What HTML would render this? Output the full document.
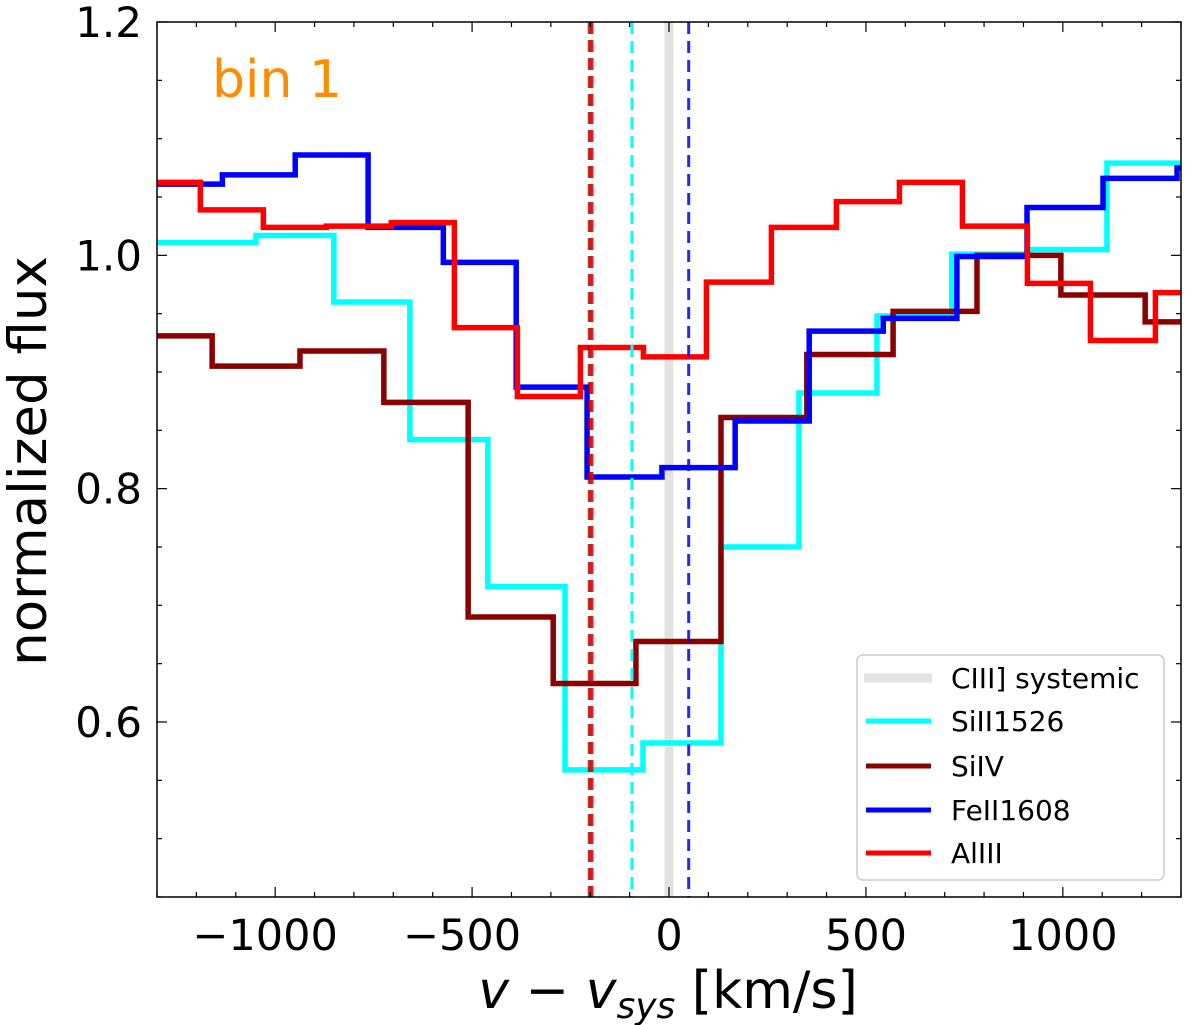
<!DOCTYPE html>
<html><head><meta charset="utf-8"><style>
html,body{margin:0;padding:0;background:#fff;}
svg{display:block;font-family:"DejaVu Sans","Liberation Sans",sans-serif;}
</style></head><body>
<svg id="chart" width="1200" height="1025" viewBox="0 0 1200 1025">
</svg>
<script>
const redEdges=[-1300,-1190,-1030,-870,-705,-545,-385,-225,-65,95,260,425,585,745,910,1070,1235,1300];
const redLevels=[1.0625,1.039,1.024,1.025,1.028,0.938,0.879,0.921,0.913,0.977,1.024,1.046,1.0625,1.025,0.976,0.927,0.968];
const blueEdges=[-1300,-1134,-949,-764,-573,-388,-208,-18,168,356,544,731,909,1102,1290,1300];
const blueLevels=[1.061,1.069,1.086,1.024,0.994,0.887,0.810,0.818,0.858,0.935,0.946,0.999,1.041,1.066,1.075];
const cyanEdges=[-1300,-1049,-851,-658,-460,-264,-66,132,330,528,718,917,1112,1300];
const cyanLevels=[1.011,1.017,0.960,0.842,0.716,0.559,0.582,0.750,0.882,0.948,1.001,1.005,1.079];
const darkEdges=[-1300,-1160,-937,-724,-510,-294,-84,132,350,569,782,995,1209,1300];
const darkLevels=[0.931,0.905,0.918,0.874,0.690,0.633,0.669,0.861,0.915,0.952,1.0,0.966,0.943];
const vlineValues=[-200,-197,-94,50];
const xTicks=[-1000,-500,0,500,1000];
const xTickLabels=["\u22121000","\u2212500","0","500","1000"];
const yTicks=[0.6,0.8,1.0,1.2];
const yTickLabels=["0.6","0.8","1.0","1.2"];

const L=157,R=1181,T=22,B=897,XMIN=-1300,XMAX=1300,YMIN=0.45,YMAX=1.2;
const sx=v=>L+(v-XMIN)/(XMAX-XMIN)*(R-L);
const sy=v=>B-(v-YMIN)/(YMAX-YMIN)*(B-T);
const svg=document.getElementById('chart');
const NS='http://www.w3.org/2000/svg';
function mk(tag,attrs,parent){const e=document.createElementNS(NS,tag);for(const k in attrs)e.setAttribute(k,attrs[k]);(parent||svg).appendChild(e);return e;}

const defs=mk('defs',{});
const cp=mk('clipPath',{id:'clip'},defs);
mk('rect',{x:L,y:T,width:R-L,height:B-T},cp);
const plot=mk('g',{'clip-path':'url(#clip)'});



const band=mk('line',{x1:sx(0),x2:sx(0),y1:T,y2:B,stroke:'#e3e3e3','stroke-width':9},plot);



function stepPath(edges,levels){let d='M'+sx(edges[0])+','+sy(levels[0]);for(let i=0;i<levels.length;i++){d+=' L'+sx(edges[i+1])+','+sy(levels[i]);if(i+1<levels.length)d+=' L'+sx(edges[i+1])+','+sy(levels[i+1]);}return d;}
const series=[[cyanEdges,cyanLevels,'#00ffff','siII1526-line'],[darkEdges,darkLevels,'#8b0000','siIV-line'],[blueEdges,blueLevels,'#0000ff','feII1608-line'],[redEdges,redLevels,'#ff0000','alIII-line']];
series.forEach(s=>{const p=mk('path',{d:stepPath(s[0],s[1]),fill:'none',stroke:s[2],'stroke-width':5.5,'stroke-linejoin':'miter'},plot);

});

const vStyles=[['#8b0000',5,'12,6',0.75],['#ff0000',4.5,'12,6',0.7],['#00ffff',3,'12,7',1],['#0000ff',3,'12,7',0.85]];
vlineValues.forEach((v,i)=>{const st=vStyles[i];const l=mk('line',{x1:sx(v),x2:sx(v),y1:T,y2:B,stroke:st[0],'stroke-width':st[1],'stroke-dasharray':st[2],opacity:st[3]},plot);

});

const fr=mk('rect',{x:L,y:T,width:R-L,height:B-T,fill:'none',stroke:'#000','stroke-width':1.5});



for(let v=-1300;v<=1300;v+=100){const x=sx(v);const major=v%500===0;const len=major?10:5;
mk('line',{x1:x,x2:x,y1:B,y2:B-len,stroke:'#000','stroke-width':1.2});
mk('line',{x1:x,x2:x,y1:T,y2:T+len,stroke:'#000','stroke-width':1.2});}
for(let k=0;k<=15;k++){const v=0.45+k*0.05;const y=sy(v);const major=Math.abs((v*10)%2)<0.01||Math.abs((v*10)%2-2)<0.01;const len=major?10:5;
mk('line',{x1:L,x2:L+len,y1:y,y2:y,stroke:'#000','stroke-width':1.2});
mk('line',{x1:R,x2:R-len,y1:y,y2:y,stroke:'#000','stroke-width':1.2});}

xTicks.forEach((v,i)=>{const t=mk('text',{x:sx(v)-(v<0?10:0),y:950,'font-size':43,'text-anchor':'middle',fill:'#000'});t.textContent=xTickLabels[i];

});
yTicks.forEach((v,i)=>{const t=mk('text',{x:142,y:sy(v)+15,'font-size':42,'text-anchor':'end',fill:'#000'});t.textContent=yTickLabels[i];

});
</script>
<svg width="1200" height="1025" style="position:absolute;left:0;top:0;font-family:'DejaVu Sans','Liberation Sans',sans-serif">
<text x="212" y="97" font-size="52" fill="#ff8c00">bin 1</text>
<text x="668" y="1008" font-size="52" text-anchor="middle"><tspan font-style="italic">v</tspan> − <tspan font-style="italic">v</tspan><tspan font-style="italic" font-size="36" dy="10">sys</tspan><tspan dy="-10"> [km/s]</tspan></text>
<text transform="translate(46,461) rotate(-90)" font-size="53" text-anchor="middle">normalized flux</text>
<g>
<rect x="857" y="655" width="307" height="225" rx="6" fill="#fff" fill-opacity="0.85" stroke="#ccc" stroke-width="1.5"/>
<line x1="864" x2="932" y1="678" y2="678" stroke="#e3e3e3" stroke-width="9"/>
<text x="951" y="688" font-size="28">CIII] systemic</text>
<line x1="866" x2="931" y1="721" y2="721" stroke="#00ffff" stroke-width="5"/>
<text x="951" y="731" font-size="28">SiII1526</text>
<line x1="866" x2="931" y1="766" y2="766" stroke="#8b0000" stroke-width="5"/>
<text x="951" y="776" font-size="28">SiIV</text>
<line x1="866" x2="931" y1="810" y2="810" stroke="#0000ff" stroke-width="5"/>
<text x="951" y="820" font-size="28">FeII1608</text>
<line x1="866" x2="931" y1="853" y2="853" stroke="#ff0000" stroke-width="5"/>
<text x="951" y="863" font-size="28">AlIII</text>
</g>
</svg>
</body></html>
